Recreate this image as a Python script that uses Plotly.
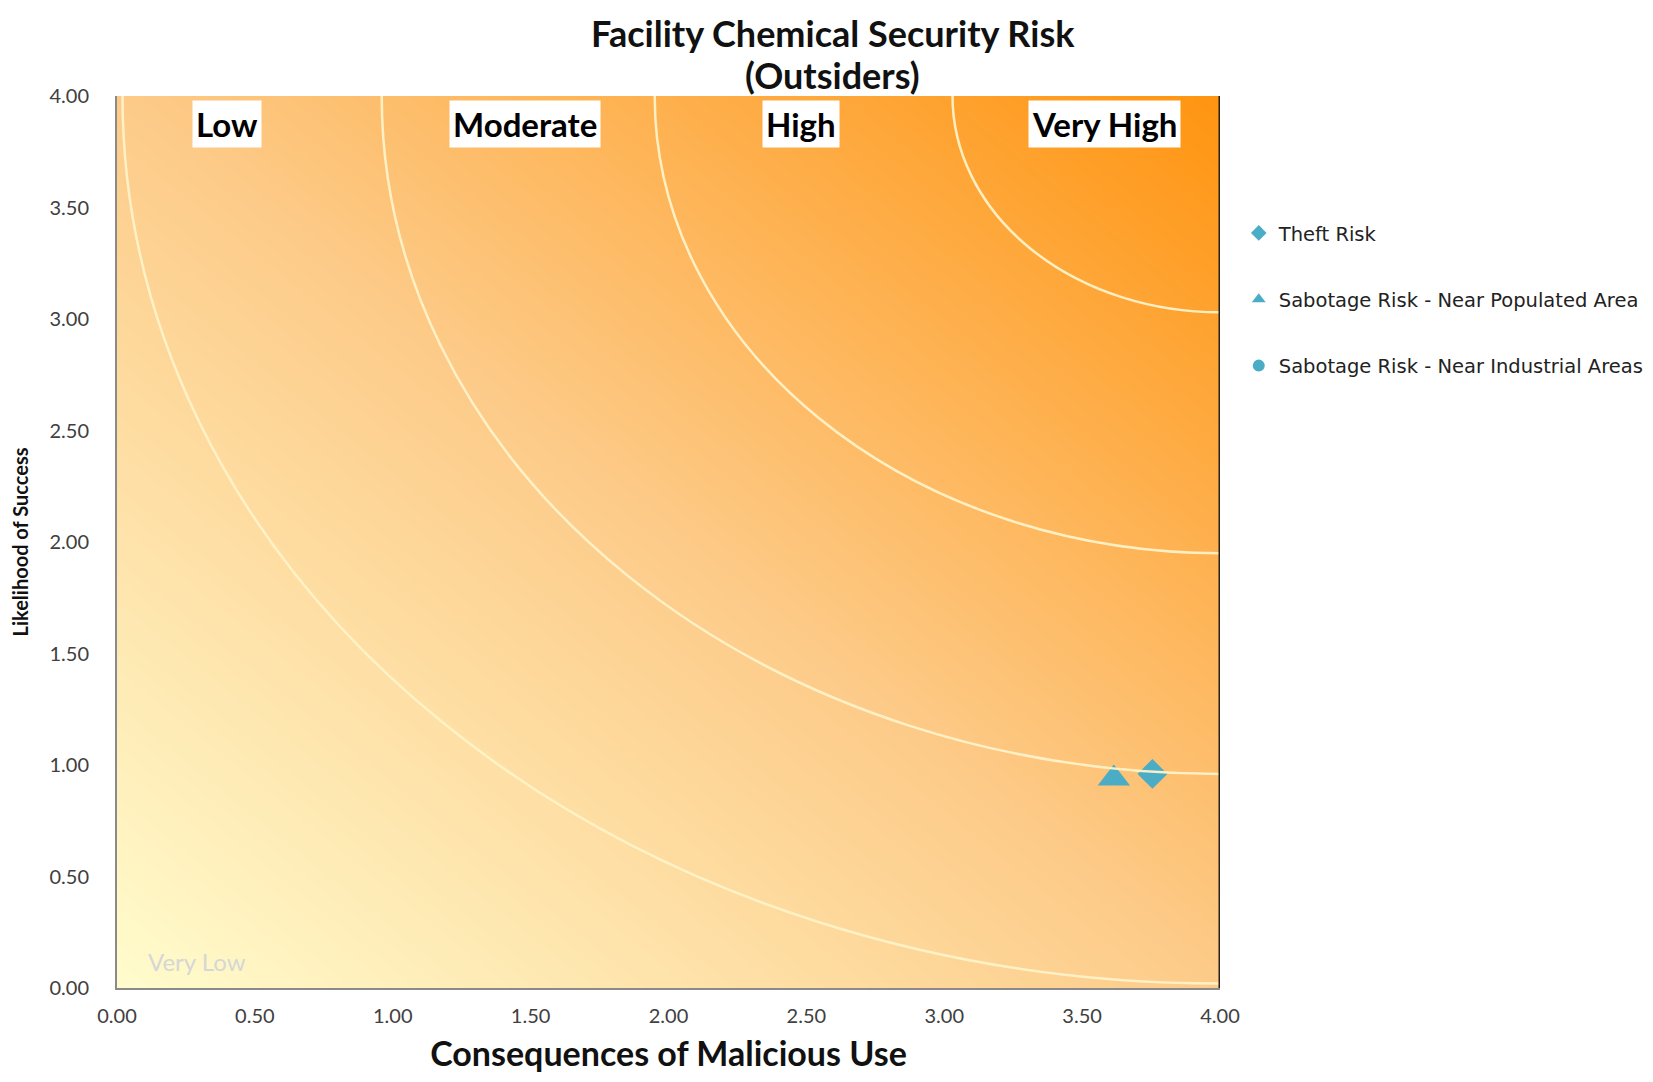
import plotly.graph_objects as go

# risk scores
series_names = ['Theft Risk', 'Sabotage Risk - Near Populated Area', 'Sabotage Risk - Near Industrial Areas']
consequences = [3.755, 3.615, 3.755]
likelihood = [0.96, 0.94, 0.96]
symbols = ['diamond', 'triangle-up', 'circle']
sizes = [23, 28, 20]

# risk band boundaries (arcs centred on the 4,4 corner)
arc_radii = [0.97, 2.05, 3.04, 3.98]
band_labels = ['Low', 'Moderate', 'High', 'Very High']
band_x = [0.40, 1.48, 2.48, 3.58]
band_y = 3.875

marker_color = '#4BACC6'
font = 'Lato'

fig = go.Figure()

# background gradient
fig.add_trace(go.Heatmap(
    x=[0, 4], y=[0, 4], z=[[0, 1], [1, 2]],
    zsmooth='best', showscale=False, hoverinfo='skip',
    colorscale=[[0, '#FFFCCD'], [0.5, '#FDCB89'], [1, '#FF9410']],
))

# draw order: circle first so diamond sits over it
draw_order = [2, 1, 0]
for i in draw_order:
    fig.add_trace(go.Scatter(
        x=[consequences[i]], y=[likelihood[i]], mode='markers',
        name=series_names[i], legendgroup=series_names[i], legendrank=i + 1,
        marker=dict(symbol=symbols[i], size=sizes[i], color=marker_color),
    ))

for r in arc_radii:
    fig.add_shape(type='circle', xref='x', yref='y',
                  x0=4 - r, x1=4 + r, y0=4 - r, y1=4 + r,
                  line=dict(color='rgba(255,242,200,0.95)', width=2.5), layer='above')

# right edge dark line
fig.add_shape(type='line', xref='x', yref='y', x0=4, x1=4, y0=0, y1=4,
              line=dict(color='#2a2118', width=3))

for lab, bx in zip(band_labels, band_x):
    fig.add_annotation(x=bx, y=band_y, xref='x', yref='y', text='<b>' + lab + '</b>',
                       showarrow=False, bgcolor='white', borderpad=3,
                       font=dict(family=font, size=33, color='black'))

fig.add_annotation(x=0.29, y=0.12, xref='x', yref='y', text='Very Low', showarrow=False,
                   font=dict(family=font, size=24, color='#d6d6d6'))

# chart title as two lines
title_lines = ['Facility Chemical Security Risk', '(Outsiders)']
for txt, ty in zip(title_lines, [1.071, 1.024]):
    fig.add_annotation(x=0.649, y=ty, xref='paper', yref='paper', text='<b>' + txt + '</b>',
                       showarrow=False, xanchor='center', yanchor='middle',
                       font=dict(family=font, size=36, color='#111111'))

fig.update_layout(
    width=1653, height=1082,
    margin=dict(l=105, r=439, t=88, b=102),
    paper_bgcolor='white', plot_bgcolor='white',
    font=dict(family=font, color='#404040'),
    legend=dict(x=1.017, y=0.868, xanchor='left', yanchor='top',
                font=dict(family='DejaVu Sans', size=19.5, color='#222222'),
                itemsizing='constant', tracegroupgap=38, bgcolor='rgba(0,0,0,0)'),
    xaxis=dict(range=[0, 4], dtick=0.5, tickformat='.2f', showgrid=False, zeroline=False,
               showline=True, linecolor='#8a8a8a', linewidth=2, ticks='', ticklabelstandoff=9,
               tickfont=dict(family=font, size=20, color='#404040'),
               title=dict(text='<b>Consequences of Malicious Use</b>', standoff=16,
                          font=dict(family=font, size=34, color='#111111'))),
    yaxis=dict(range=[0, 4], dtick=0.5, tickformat='.2f', showgrid=False, zeroline=False,
               showline=True, linecolor='#8a8a8a', linewidth=2, ticks='', ticklabelstandoff=22,
               tickfont=dict(family=font, size=20, color='#404040'),
               title=dict(text='<b>Likelihood of Success</b>', standoff=15,
                          font=dict(family=font, size=20, color='#111111'))),
)

fig.write_html('out.html')
